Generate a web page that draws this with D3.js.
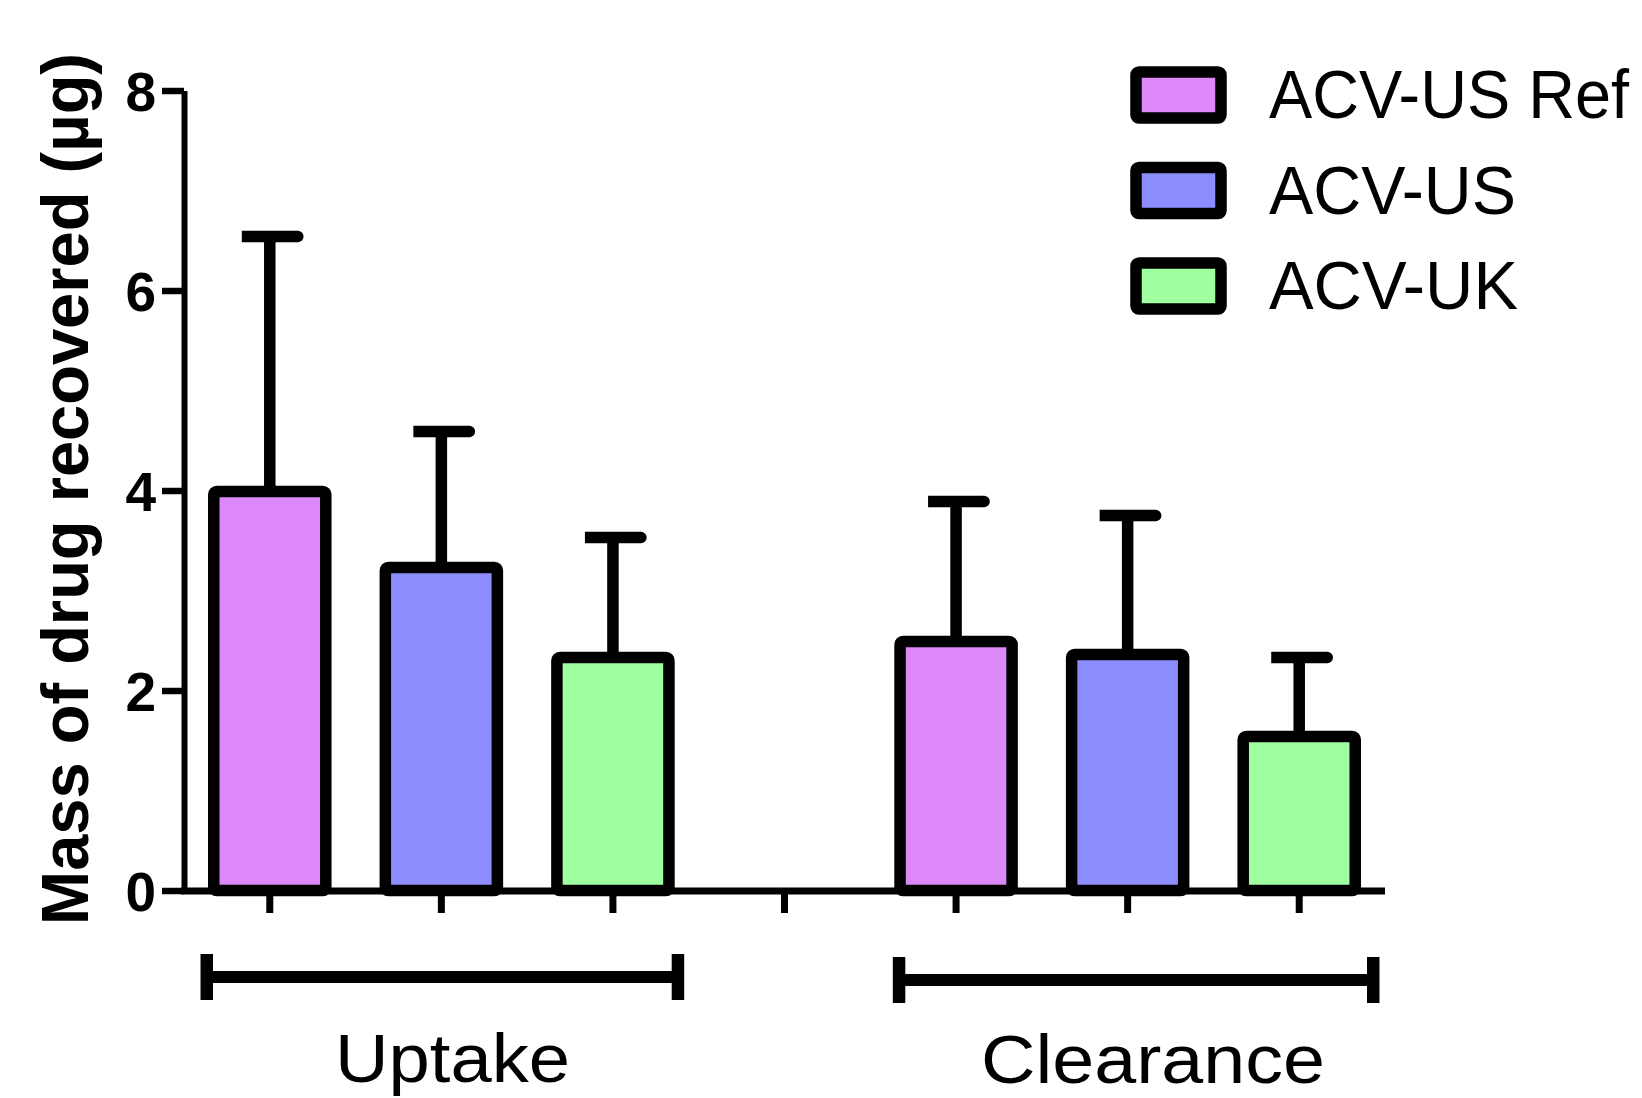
<!DOCTYPE html>
<html>
<head>
<meta charset="utf-8">
<script src="https://cdn.jsdelivr.net/npm/d3@7"></script>
<style>
  html, body { margin: 0; padding: 0; background: #fff; }
  svg { display: block; }
</style>
</head>
<body>
<svg id="chart" width="1642" height="1098"></svg>
<script>
// ---- data ----
const slots = ["Uptake|ACV-US Ref", "Uptake|ACV-US", "Uptake|ACV-UK", "gap",
               "Clearance|ACV-US Ref", "Clearance|ACV-US", "Clearance|ACV-UK"];
const seriesNames = ["ACV-US Ref", "ACV-US", "ACV-UK"];
const seriesColors = ["#DD88F8", "#8C8CFF", "#A0FFA0"];
const groups = ["Uptake", "Clearance"];
const uptakeMeans = [3.99, 3.23, 2.33];
const uptakeSD = [2.55, 1.36, 1.20];
const clearanceMeans = [2.49, 2.36, 1.54];
const clearanceSD = [1.40, 1.39, 0.79];
const yTicks = [0, 2, 4, 6, 8];
const yTitle = "Mass of drug recovered (µg)";

const bars = [];
seriesNames.forEach((s, i) => bars.push({slot: "Uptake|" + s, mean: uptakeMeans[i], sd: uptakeSD[i], color: seriesColors[i]}));
seriesNames.forEach((s, i) => bars.push({slot: "Clearance|" + s, mean: clearanceMeans[i], sd: clearanceSD[i], color: seriesColors[i]}));

// ---- scales ----
const svg = d3.select("#chart");
const x = d3.scaleBand().domain(slots).range([184, 1385]).paddingInner(0.347).paddingOuter(0.1735);
const y = d3.scaleLinear().domain([0, 8]).range([890.5, 90.5]);
const SW = 11.5;

// error bars (under bars)
const eb = svg.append("g");
bars.forEach(d => {
  const cx = x(d.slot) + x.bandwidth() / 2;
  eb.append("line").attr("x1", cx).attr("x2", cx)
    .attr("y1", y(d.mean)).attr("y2", y(d.mean + d.sd))
    .attr("stroke", "#000").attr("stroke-width", SW);
  eb.append("line").attr("x1", cx - 28).attr("x2", cx + 28)
    .attr("y1", y(d.mean + d.sd)).attr("y2", y(d.mean + d.sd))
    .attr("stroke", "#000").attr("stroke-width", SW);
  eb.append("circle").attr("cx", cx + 28).attr("cy", y(d.mean + d.sd))
    .attr("r", SW / 2).attr("fill", "#000");
});

// bars
svg.append("g").selectAll("rect").data(bars).join("rect")
  .attr("x", d => x(d.slot))
  .attr("width", x.bandwidth())
  .attr("y", d => y(d.mean))
  .attr("height", d => y(0) - y(d.mean))
  .attr("rx", 3)
  .attr("fill", d => d.color)
  .attr("stroke", "#000")
  .attr("stroke-width", SW)
  .attr("stroke-linejoin", "round");

// x axis
const gx = svg.append("g").attr("transform", "translate(0,891)")
  .call(d3.axisBottom(x).tickSize(22).tickSizeOuter(0).tickFormat(""));
gx.select(".domain").attr("stroke", "#000").attr("stroke-width", 7)
  .attr("d", "M181,0H1385");
gx.selectAll(".tick line").attr("stroke", "#000").attr("stroke-width", 7);

// y axis
const gy = svg.append("g").attr("transform", "translate(184,0)")
  .call(d3.axisLeft(y).tickValues(yTicks).tickSize(22).tickSizeOuter(0).tickPadding(6));
gy.select(".domain").attr("stroke", "#000").attr("stroke-width", 6);
gy.selectAll(".tick line").attr("stroke", "#000").attr("stroke-width", 6.5);
gy.selectAll(".tick text")
  .attr("font-family", "'Liberation Sans', Arial, sans-serif")
  .attr("font-weight", "bold").attr("font-size", 55).attr("fill", "#000")
  .attr("dy", "0.36em");

// y title
svg.append("text")
  .attr("transform", "translate(88,489) rotate(-90)")
  .attr("text-anchor", "middle")
  .attr("font-family", "'Liberation Sans', Arial, sans-serif")
  .attr("font-weight", "bold").attr("font-size", 66)
  .attr("textLength", 872).attr("lengthAdjust", "spacingAndGlyphs")
  .text(yTitle);

// group brackets + labels
const groupInfo = [
  {name: groups[0], first: slots[0], last: slots[2], padL: -7, padR: 9, yy: 977, tx: 335, tl: 235, base: 1082},
  {name: groups[1], first: slots[4], last: slots[6], padL: -1, padR: 18, yy: 980, tx: 981, tl: 344, base: 1083}
];
groupInfo.forEach(g => {
  const x1 = x(g.first) + g.padL, x2 = x(g.last) + x.bandwidth() + g.padR;
  const gg = svg.append("g");
  gg.append("line").attr("x1", x1).attr("x2", x2).attr("y1", g.yy).attr("y2", g.yy)
    .attr("stroke", "#000").attr("stroke-width", 12);
  [x1, x2].forEach(xx => gg.append("line").attr("x1", xx).attr("x2", xx)
    .attr("y1", g.yy - 23).attr("y2", g.yy + 23)
    .attr("stroke", "#000").attr("stroke-width", 12.5));
  svg.append("text").attr("x", g.tx).attr("y", g.base)
    .attr("font-family", "'Liberation Sans', Arial, sans-serif")
    .attr("font-size", 68)
    .attr("textLength", g.tl).attr("lengthAdjust", "spacingAndGlyphs")
    .text(g.name);
});

// legend
const legLens = [360, 247, 249];
const leg = svg.append("g");
seriesNames.forEach((s, i) => {
  const cy = 95 + i * 95.5;
  leg.append("rect").attr("x", 1136).attr("y", cy - 23).attr("width", 85).attr("height", 46)
    .attr("rx", 3).attr("fill", seriesColors[i]).attr("stroke", "#000")
    .attr("stroke-width", SW).attr("stroke-linejoin", "round");
  leg.append("text").attr("x", 1269).attr("y", cy + 23)
    .attr("font-family", "'Liberation Sans', Arial, sans-serif")
    .attr("font-size", 68)
    .attr("textLength", legLens[i]).attr("lengthAdjust", "spacingAndGlyphs")
    .text(s);
});
</script>
</body>
</html>
